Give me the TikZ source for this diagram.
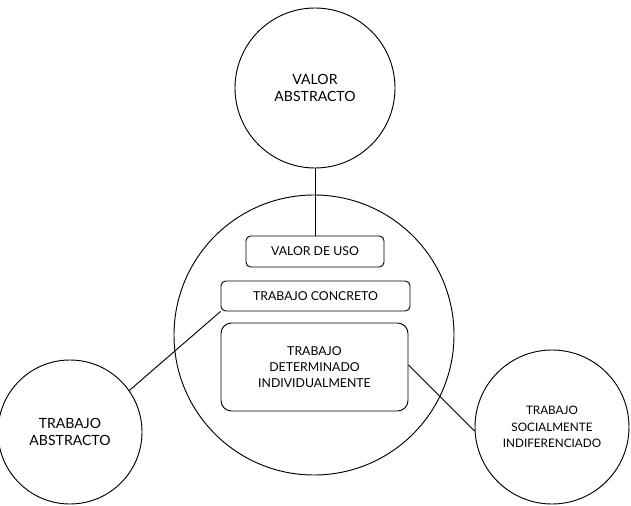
\documentclass[tikz,border=0pt]{standalone}
\usepackage{fontspec}
\setmainfont{Lato}
\usetikzlibrary{positioning}

\begin{document}
\begin{tikzpicture}[
    x=0.03cm, y=-0.03cm,
    circ/.style={circle, draw, thick, align=center, font=\fontsize{12}{15}\selectfont},
    box/.style={rectangle, draw, thick, rounded corners=4pt, align=center, font=\fontsize{10.5}{13.5}\selectfont},
    link/.style={thick}
]
\useasboundingbox (0,0) rectangle (631,506);

\node[circ, minimum size=160*0.03cm] (abstracto) at (315,88) {VALOR\\ABSTRACTO};
\node[circ, minimum size=280*0.03cm] (mercancia) at (314,335) {};
\node[circ, minimum size=144*0.03cm] (trabajoabs) at (70,432) {TRABAJO\\ABSTRACTO};
\node[circ, minimum size=154*0.03cm, font=\fontsize{10}{14}\selectfont] (social) at (552,427) {TRABAJO\\SOCIALMENTE\\INDIFERENCIADO};

\node[box, minimum width=138*0.03cm, minimum height=31*0.03cm] (uso) at (315,251.5) {VALOR DE USO};
\node[box, minimum width=189*0.03cm, minimum height=30*0.03cm] (concreto) at (315.5,296) {TRABAJO CONCRETO};
\node[box, rounded corners=9pt, minimum width=187*0.03cm, minimum height=88*0.03cm] (individual) at (314.5,367) {TRABAJO\\DETERMINADO\\INDIVIDUALMENTE};

\draw[link] (abstracto) -- (uso);
\draw[link] (trabajoabs.35) -- (concreto.south west);
\draw[link] (individual.east |- 0,365) -- (social.183);

\end{tikzpicture}
\end{document}
